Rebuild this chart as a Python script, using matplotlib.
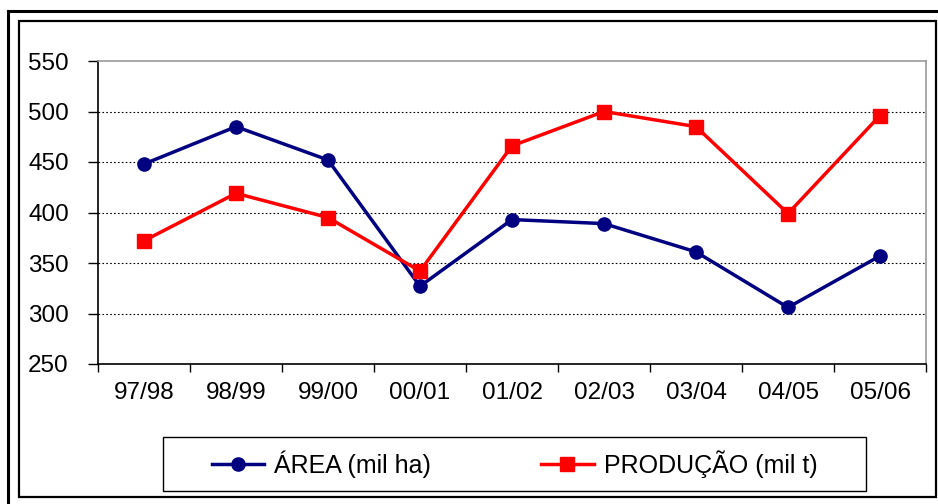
import matplotlib
matplotlib.use("Agg")
import matplotlib.pyplot as plt
from matplotlib.patches import Rectangle
from matplotlib.lines import Line2D

plt.rcParams['font.family'] = ['Liberation Sans', 'DejaVu Sans']

# data
safras = ['97/98', '98/99', '99/00', '00/01', '01/02', '02/03', '03/04', '04/05', '05/06']
area = [448, 485, 452, 327, 393, 389, 361, 306, 357]
producao = [372, 419, 395, 342, 466, 500, 485, 399, 496]
y_ticks = [250, 300, 350, 400, 450, 500, 550]

fig = plt.figure(figsize=(9.38, 5.04), dpi=100)

# outer frames
fig.add_artist(Line2D([8/938, 1.0], [1 - 11/504, 1 - 11/504], color='black', lw=2.2, transform=fig.transFigure))
fig.add_artist(Line2D([8/938, 8/938], [0, 1 - 11/504], color='black', lw=2.2, transform=fig.transFigure))
fig.add_artist(Rectangle((19/938, 1 - 497/504), 917/938, 476/504, fill=False,
                         ec='black', lw=1.6, transform=fig.transFigure))

ax = fig.add_axes([98/938, 1 - 364/504, 828/938, 303/504])
x = list(range(len(safras)))

ax.plot(x, area, color='#000080', lw=2.5, marker='o', ms=9.5, label='ÁREA (mil ha)', zorder=3)
ax.plot(x, producao, color='#FF0000', lw=2.5, marker='s', ms=9.5, label='PRODUÇÃO (mil t)', zorder=3)

ax.set_xlim(-0.5, len(safras) - 0.5)
ax.set_ylim(250, 550)
ax.set_yticks(y_ticks)
ax.set_yticklabels([str(v) for v in y_ticks], fontsize=17.5)
ax.tick_params(axis='y', length=7, width=1, pad=14, direction='out')

# category labels centred, tick marks between categories
ax.set_xticks([i - 0.5 for i in range(len(safras) + 1)])
ax.set_xticklabels([])
ax.tick_params(axis='x', which='major', length=6, width=1, direction='out')
ax.set_xticks(x, minor=True)
ax.set_xticklabels(safras, minor=True, fontsize=17.5)
ax.tick_params(axis='x', which='minor', length=0, pad=13)

for v in [300, 350, 400, 450, 500]:
    ax.axhline(v, color='black', lw=0.8, ls=(0, (1.5, 2)), zorder=1)

ax.spines['left'].set_color('black')
ax.spines['bottom'].set_color('black')
ax.spines['top'].set_color('#999999')
ax.spines['right'].set_color('#999999')
for s in ax.spines.values():
    s.set_linewidth(1.2)

# legend box
fig.add_artist(Rectangle((163/938, 1 - 491/504), 703/938, 54/504, fill=False,
                         ec='black', lw=1.0, transform=fig.transFigure))
leg = fig.legend(loc='center', bbox_to_anchor=(514.5/938, 1 - 464/504),
                 ncol=2, fontsize=18, frameon=False, handlelength=2.1,
                 columnspacing=4.4, handletextpad=0.4, borderaxespad=0, borderpad=0)

fig.savefig('out.png', dpi=100)
